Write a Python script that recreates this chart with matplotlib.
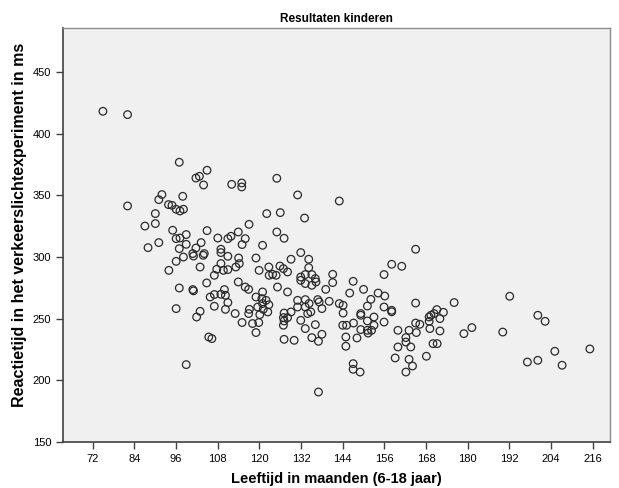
import matplotlib
matplotlib.use("Agg")
import matplotlib.pyplot as plt

plt.rcParams['font.family'] = ['Liberation Sans', 'DejaVu Sans']

title = "Resultaten kinderen"
x_label = "Leeftijd in maanden (6-18 jaar)"
y_label = "Reactietijd in het verkeerslichtexperiment in ms"
x_ticks = [72, 84, 96, 108, 120, 132, 144, 156, 168, 180, 192, 204, 216]
y_ticks = [150, 200, 250, 300, 350, 400, 450]

# age in months
age = [
    74.9, 82.0, 96.9, 82.0, 91.9, 91.0, 97.9, 93.8, 94.8, 96.0,
    97.1, 98.1, 90.0, 87.0, 90.0, 95.0, 96.0, 97.1, 91.0, 87.9,
    96.9, 98.1, 96.0, 93.9, 96.9, 96.0, 98.9, 98.9, 98.9, 101.7,
    102.7, 104.9, 103.9, 104.9, 103.2, 101.7, 100.8, 101.0, 104.1, 103.8,
    102.9, 108.0, 110.9, 111.8, 108.9, 108.9, 110.9, 114.0, 114.2, 113.2,
    115.9, 115.0, 120.9, 119.0, 119.9, 122.7, 122.8, 108.9, 107.7, 109.6,
    110.9, 107.0, 104.8, 100.8, 101.0, 113.9, 115.9, 116.9, 105.8, 107.0,
    108.9, 109.9, 110.2, 110.9, 107.0, 110.2, 102.9, 101.9, 113.0, 119.0,
    120.9, 120.7, 121.9, 120.9, 119.5, 121.1, 122.4, 120.1, 117.1, 116.9,
    115.0, 118.0, 119.8, 119.0, 105.4, 106.3, 112.0, 114.9, 114.9, 113.9,
    117.0, 125.0, 131.0, 122.1, 126.0, 133.0, 125.0, 127.1, 131.9, 129.1,
    134.2, 125.9, 126.9, 128.1, 123.8, 124.8, 125.2, 128.1, 134.2, 131.9,
    133.2, 135.1, 136.1, 131.9, 133.2, 135.1, 136.3, 141.1, 141.1, 139.1,
    122.7, 131.0, 133.2, 134.3, 136.8, 137.2, 131.0, 133.2, 134.8, 133.9,
    140.1, 138.0, 143.0, 144.1, 144.1, 127.1, 126.9, 127.1, 126.9, 128.1,
    129.1, 131.9, 136.1, 133.2, 144.0, 145.1, 138.0, 127.1, 130.0, 135.1,
    137.0, 144.9, 144.9, 137.0, 143.0, 165.0, 158.1, 161.0, 155.9, 147.0,
    150.0, 146.0, 154.2, 156.1, 152.1, 151.1, 155.9, 158.1, 158.1, 149.2,
    149.2, 153.0, 151.1, 155.9, 147.1, 153.0, 149.2, 151.1, 151.3, 152.3,
    148.1, 165.0, 165.0, 166.2, 163.1, 165.2, 159.9, 162.2, 162.2, 163.6,
    159.9, 147.0, 147.0, 149.0, 159.1, 163.1, 164.1, 162.2, 168.9, 169.4,
    170.3, 171.1, 173.0, 168.9, 172.0, 169.1, 172.0, 170.0, 171.2, 168.1,
    176.1, 178.9, 181.2, 192.1, 190.1, 200.2, 202.3, 197.2, 200.2, 205.1,
    207.2, 215.2,
]

# reaction time in ms
reaction = [
    418.0, 415.3, 376.7, 341.3, 350.5, 346.4, 349.1, 342.4, 341.8, 338.6,
    337.2, 338.6, 335.1, 325.0, 327.0, 321.6, 314.8, 315.3, 311.6, 307.5,
    306.7, 299.9, 296.4, 289.1, 274.8, 258.1, 212.7, 318.1, 310.2, 363.9,
    365.3, 370.2, 358.3, 321.3, 311.6, 307.2, 302.7, 300.7, 302.7, 301.3,
    291.8, 315.3, 314.8, 316.7, 306.2, 303.5, 300.5, 299.1, 294.6, 291.8,
    314.8, 310.0, 309.4, 299.1, 289.1, 291.8, 285.1, 294.6, 290.0, 289.1,
    289.7, 285.1, 278.9, 273.5, 272.5, 279.7, 275.6, 273.7, 267.5, 269.5,
    269.7, 273.5, 268.9, 263.0, 260.0, 257.5, 255.9, 251.3, 254.1, 267.5,
    271.6, 266.2, 264.8, 262.2, 259.4, 257.5, 255.4, 253.2, 257.5, 254.1,
    246.8, 246.0, 246.8, 238.7, 235.1, 233.8, 358.8, 359.9, 356.7, 320.2,
    326.4, 363.7, 350.2, 335.1, 335.9, 331.5, 320.2, 315.1, 303.5, 298.1,
    298.1, 292.6, 290.5, 287.8, 285.9, 285.1, 275.6, 271.6, 291.3, 283.7,
    285.7, 285.7, 282.4, 281.0, 278.4, 277.0, 279.7, 285.9, 279.2, 273.7,
    261.2, 264.8, 265.4, 262.2, 265.4, 263.5, 259.4, 259.4, 255.4, 254.1,
    264.0, 258.1, 262.2, 260.8, 254.5, 254.5, 250.8, 248.1, 244.6, 250.8,
    255.4, 248.6, 245.1, 241.9, 244.6, 244.6, 237.3, 233.2, 232.4, 234.6,
    231.6, 235.1, 227.6, 190.5, 345.3, 306.2, 294.0, 292.4, 285.7, 280.2,
    273.7, 270.7, 270.7, 268.3, 265.6, 260.2, 259.4, 256.7, 255.5, 254.1,
    252.7, 251.3, 248.1, 247.2, 246.4, 244.6, 241.1, 240.5, 238.3, 240.5,
    234.3, 262.6, 246.4, 245.4, 240.5, 238.7, 240.5, 234.6, 231.0, 227.0,
    227.0, 213.5, 208.9, 206.7, 218.1, 217.0, 211.6, 206.7, 251.3, 252.7,
    254.1, 257.3, 255.1, 247.8, 250.0, 241.9, 240.0, 229.7, 229.7, 219.5,
    263.0, 237.8, 242.7, 268.1, 239.1, 252.7, 247.8, 214.8, 216.2, 223.5,
    212.2, 225.4,
]

W, H = 619, 488
fig = plt.figure(figsize=(W / 100, H / 100), dpi=100)
fig.patch.set_facecolor('white')
ax = fig.add_axes([63 / W, 1 - 442 / H, (610 - 63) / W, (442 - 28) / H])
ax.set_facecolor('#f0f0f0')

ax.scatter(age, reaction, s=30, facecolors='none', edgecolors='#2a2a2a',
           linewidths=0.9, zorder=3)

ax.set_xlim(63.4, 221.0)
ax.set_ylim(150, 485.5)
ax.set_xticks(x_ticks)
ax.set_yticks(y_ticks)
ax.tick_params(axis='both', direction='out', length=5, width=1,
               color='#404040', labelsize=8, labelcolor='black')

for side in ['left', 'bottom']:
    ax.spines[side].set_color('#404040')
    ax.spines[side].set_linewidth(1.2)
for side in ['top', 'right']:
    ax.spines[side].set_color('#8c8c8c')
    ax.spines[side].set_linewidth(1.0)

ax.set_xlabel(x_label, fontsize=10.5, fontweight='bold', labelpad=6)
ax.set_ylabel(y_label, fontsize=11.5, fontweight='bold')
ax.yaxis.set_label_coords(-0.066, 0.524)
ax.set_title(title, fontsize=8.5, fontweight='bold', pad=4)

fig.savefig('out.png', dpi=100)
